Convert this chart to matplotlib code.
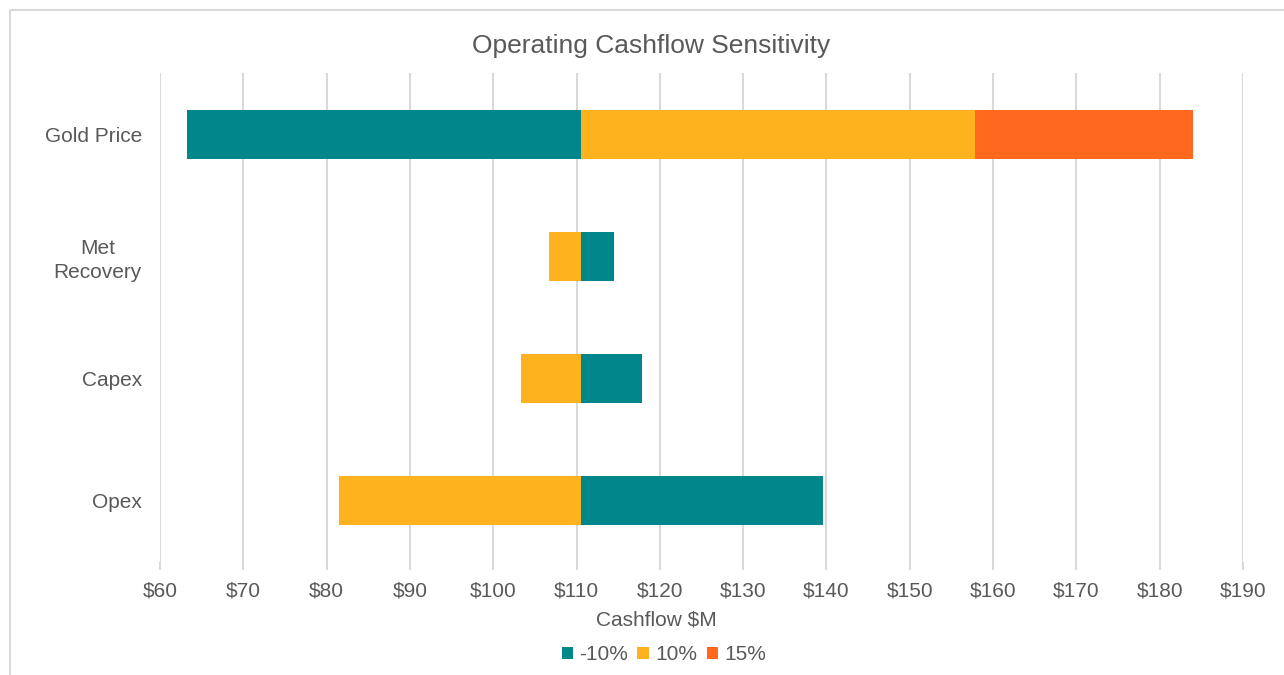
import matplotlib.pyplot as plt
from matplotlib.patches import Rectangle

plt.rcParams['font.family'] = ['Liberation Sans', 'DejaVu Sans']

# sensitivity data (cashflow $M)
categories = ['Gold Price', 'Met\nRecovery', 'Capex', 'Opex']
base = 110.5
minus10 = [63.2, 114.5, 117.8, 139.6]
plus10 = [157.8, 106.7, 103.3, 81.5]
plus15 = [184.0, None, None, None]
xticks = list(range(60, 191, 10))
xticklabels = ['$' + str(t) for t in xticks]

teal = '#00868B'
yellow = '#FDB21E'
orange = '#FF681D'
grey = '#595959'

fig = plt.figure(figsize=(12.84, 6.75), dpi=100)
ax = fig.add_axes([0.1246, 0.1674, 0.8435, 0.7245])

ypos = list(range(len(categories)))
h = 0.4

for i in ypos:
    ax.barh(i, minus10[i] - base, left=base, height=h, color=teal, zorder=3,
            label='-10%' if i == 0 else None)
    ax.barh(i, plus10[i] - base, left=base, height=h, color=yellow, zorder=3,
            label='10%' if i == 0 else None)
    if plus15[i] is not None:
        ax.barh(i, plus15[i] - plus10[i], left=plus10[i], height=h, color=orange,
                zorder=3, label='15%' if i == 0 else None)

ax.set_xlim(60, 190)
ax.set_ylim(len(categories) - 0.5, -0.5)
ax.set_xticks(xticks)
ax.set_xticklabels(xticklabels)
ax.set_yticks(ypos)
ax.set_yticklabels(categories, multialignment='center', linespacing=1.3)
ax.grid(axis='x', color='#D9D9D9', linewidth=1.5, zorder=0)
for s in ax.spines.values():
    s.set_visible(False)
ax.tick_params(axis='x', colors='#D9D9D9', length=6, width=1.5, labelcolor=grey,
               labelsize=15, pad=8)
ax.tick_params(axis='y', length=0, labelcolor=grey, labelsize=15, pad=13)

fig.text(0.511, 1 - 620 / 675, 'Cashflow $M', color=grey, fontsize=15,
         ha='center', va='center')
fig.text(0.507, 1 - 46 / 675, 'Operating Cashflow Sensitivity', color=grey,
         fontsize=19, ha='center', va='center')

leg = fig.legend(loc='center', bbox_to_anchor=(0.517, 1 - 655 / 675), ncol=3,
                 frameon=False, fontsize=15, handlelength=0.55, handleheight=0.55,
                 handletextpad=0.3, columnspacing=0.45, borderpad=0)
for t in leg.get_texts():
    t.set_color(grey)

# chart area border
fig.patches.append(Rectangle((10 / 1284, -0.01), 1.0, 1 - 10 / 675 + 0.01,
                             transform=fig.transFigure, fill=False,
                             edgecolor='#D9D9D9', linewidth=1.5))

fig.savefig('out.png', dpi=100)
